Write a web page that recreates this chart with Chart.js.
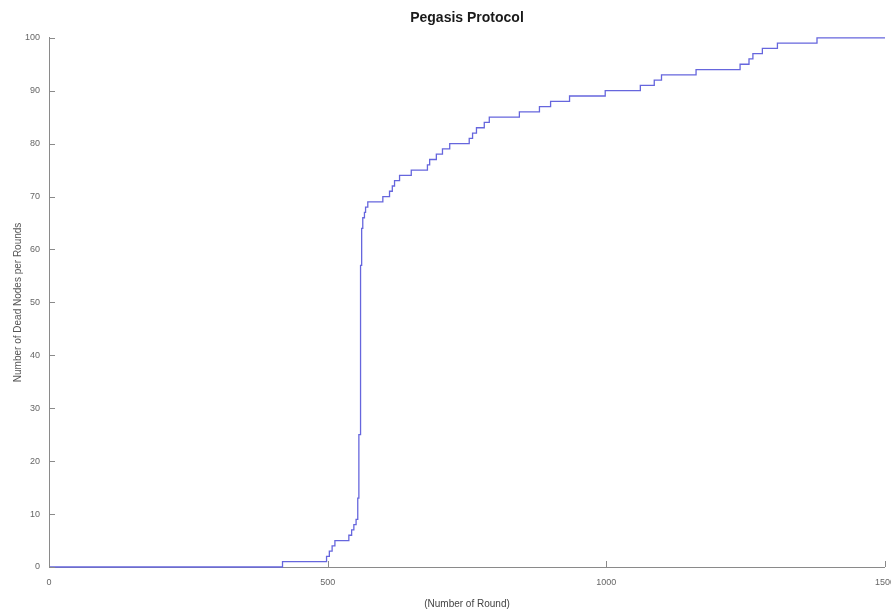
<!DOCTYPE html>
<html>
<head>
<meta charset="utf-8">
<script src="https://cdn.jsdelivr.net/npm/chart.js@4/dist/chart.umd.min.js"></script>
<style>
  html, body { margin: 0; padding: 0; background: #fff; overflow: hidden; }
  #wrap { width: 891px; height: 610px; overflow: hidden; }
</style>
</head>
<body>
<div id="wrap"><canvas id="deadChart" width="905" height="610"></canvas></div>
<script>
// round at which the dead-node count changes, and the new count
var rounds = [0, 419, 498, 503, 508, 513, 538, 543, 547, 551, 554, 556, 559, 561, 563, 566, 568, 572, 575,
              599, 611, 616, 620, 629, 650, 679, 683, 695, 706, 719, 754, 760, 767, 781, 790,
              844, 880, 900, 934, 998, 1061, 1086, 1099, 1161, 1240, 1256, 1263, 1280, 1307, 1378, 1500];
var deadNodes = [0, 1, 2, 3, 4, 5, 6, 7, 8, 9, 13, 25, 57, 64, 66, 67, 68, 69, 69,
                 70, 71, 72, 73, 74, 75, 76, 77, 78, 79, 80, 81, 82, 83, 84, 85,
                 86, 87, 88, 89, 90, 91, 92, 93, 94, 95, 96, 97, 98, 99, 100, 100];
var xTicks = [0, 500, 1000, 1500];
var yTicks = [0, 10, 20, 30, 40, 50, 60, 70, 80, 90, 100];

var points = rounds.map(function(r, i) { return { x: r, y: deadNodes[i] }; });

// MATLAB-style inward tick marks
var inwardTicks = {
    id: 'inwardTicks',
    afterDraw: function(chart) {
        var ctx = chart.ctx, area = chart.chartArea;
        var xs = chart.scales.x, ys = chart.scales.y;
        ctx.save();
        ctx.strokeStyle = '#8a8a8a';
        ctx.lineWidth = 1;
        ctx.beginPath();
        xTicks.forEach(function(v) {
            var px = Math.round(xs.getPixelForValue(v)) + 0.5;
            ctx.moveTo(px, area.bottom);
            ctx.lineTo(px, area.bottom - 6);
        });
        yTicks.forEach(function(v) {
            var py = Math.round(ys.getPixelForValue(v)) + 0.5;
            ctx.moveTo(area.left, py);
            ctx.lineTo(area.left + 6, py);
        });
        ctx.stroke();
        ctx.restore();
    }
};

new Chart(document.getElementById('deadChart'), {
    type: 'line',
    data: {
        datasets: [{
            data: points,
            stepped: 'before',
            borderColor: '#6666dd',
            borderWidth: 1.3,
            pointRadius: 0,
            fill: false,
            clip: 3
        }]
    },
    options: {
        responsive: false,
        animation: false,
        devicePixelRatio: 1,
        layout: { padding: { left: 0, right: 19, top: 0, bottom: 0 } },
        plugins: {
            legend: { display: false },
            tooltip: { enabled: false },
            title: {
                display: true,
                text: 'Pegasis Protocol',
                fullSize: false,
                color: '#1a1a1a',
                font: { family: 'Liberation Sans', size: 14, weight: 'bold' },
                padding: { top: 10, bottom: 11 }
            }
        },
        scales: {
            x: {
                type: 'linear',
                min: 0, max: 1500,
                afterBuildTicks: function(s) { s.ticks = xTicks.map(function(v) { return { value: v }; }); },
                afterFit: function(s) { s.height = 43; },
                grid: { display: false, drawTicks: false },
                border: { display: true, color: '#8a8a8a', width: 1 },
                ticks: {
                    color: '#666', padding: 10, maxRotation: 0,
                    font: { family: 'Liberation Sans', size: 9 },
                    callback: function(v) { return String(v); }
                },
                title: {
                    display: true,
                    text: '(Number of Round)',
                    color: '#444',
                    font: { family: 'Liberation Sans', size: 10 },
                    padding: { top: 5, bottom: 0 }
                }
            },
            y: {
                min: 0, max: 100,
                afterBuildTicks: function(s) { s.ticks = yTicks.map(function(v) { return { value: v }; }); },
                afterFit: function(s) { s.width = 49; },
                grid: { display: false, drawTicks: false },
                border: { display: true, color: '#8a8a8a', width: 1 },
                ticks: {
                    color: '#666', padding: 9,
                    font: { family: 'Liberation Sans', size: 9 },
                    callback: function(v) { return String(v); }
                },
                title: {
                    display: true,
                    text: 'Number of Dead Nodes per Rounds',
                    color: '#555',
                    font: { family: 'Liberation Sans', size: 10 },
                    padding: { top: 12, bottom: 0 }
                }
            }
        }
    },
    plugins: [inwardTicks]
});
</script>
</body>
</html>
